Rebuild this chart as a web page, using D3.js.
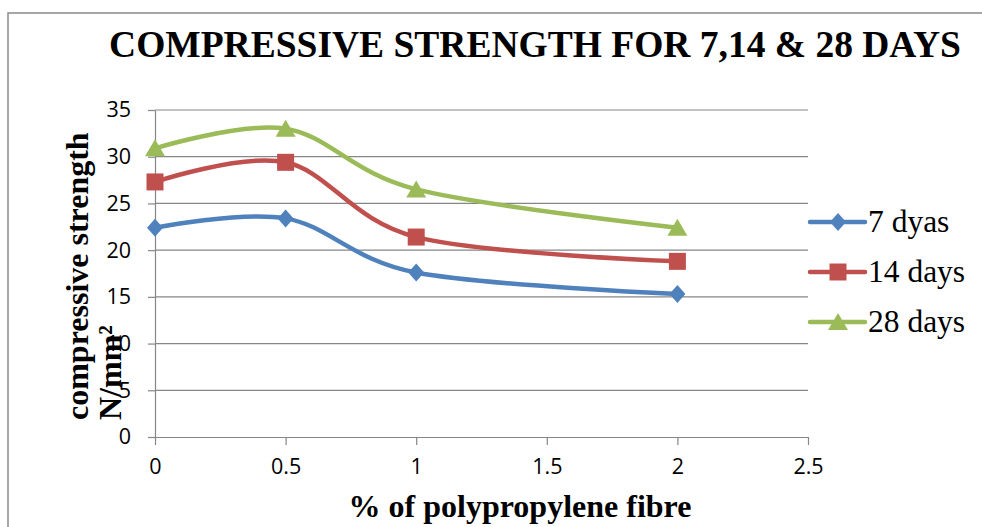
<!DOCTYPE html>
<html>
<head>
<meta charset="utf-8">
<script src="https://cdn.jsdelivr.net/npm/d3@7"></script>
<style>
  body { margin: 0; background: #fff; }
  svg { display: block; }
</style>
</head>
<body>
<svg id="chart" width="982" height="527"></svg>
<script>
// chart values
var fibre = [0, 0.5, 1, 2];
var days7 = [22.4, 23.4, 17.6, 15.3];
var days14 = [27.3, 29.4, 21.4, 18.8];
var days28 = [30.9, 33.0, 26.5, 22.4];
var seriesNames = ["7 dyas", "14 days", "28 days"];
var xTicks = [0, 0.5, 1, 1.5, 2, 2.5];
var yTicks = [0, 5, 10, 15, 20, 25, 30, 35];

var colors = ["#4F81BD", "#C0504D", "#9BBB59"];
var shapes = ["diamond", "square", "triangle"];
var series = [days7, days14, days28].map(function(vals, i) {
  return {
    name: seriesNames[i],
    color: colors[i],
    shape: shapes[i],
    points: vals.map(function(v, j) { return {x: fibre[j], y: v}; })
  };
});

var svg = d3.select("#chart");
var x = d3.scaleLinear().domain([0, 2.5]).range([155, 808]);
var y = d3.scaleLinear().domain([0, 35]).range([437, 110]);
var grey = "#868686";
var serif = "'Liberation Serif', 'Times New Roman', serif";

// outer frame (runs off the right and bottom edge)
svg.append("rect")
  .attr("x", 8).attr("y", 13)
  .attr("width", 1000).attr("height", 600)
  .style("fill", "none")
  .style("stroke", "#8a8a8a")
  .style("stroke-width", 1.5);

// title
svg.append("text")
  .attr("x", 535).attr("y", 57)
  .attr("text-anchor", "middle")
  .style("font-family", serif)
  .style("font-weight", "bold")
  .style("font-size", "37.5px")
  .text("COMPRESSIVE STRENGTH FOR 7,14 & 28 DAYS");

// gridlines
svg.append("g").selectAll("line")
  .data(yTicks.filter(function(d) { return d > 0; }))
  .enter().append("line")
  .attr("x1", x(0)).attr("x2", x(2.5))
  .attr("y1", function(d) { return y(d); })
  .attr("y2", function(d) { return y(d); })
  .style("stroke", grey)
  .style("stroke-width", 1.2);

// axes
var yAxis = svg.append("g")
  .attr("transform", "translate(" + x(0) + ",0)")
  .call(d3.axisLeft(y).tickValues(yTicks).tickSize(7).tickPadding(17).tickSizeOuter(0));
var xAxis = svg.append("g")
  .attr("transform", "translate(0," + y(0) + ")")
  .call(d3.axisBottom(x).tickValues(xTicks).tickSize(8).tickPadding(14).tickSizeOuter(0)
    .tickFormat(function(d) { return d; }));

[xAxis, yAxis].forEach(function(ax) {
  ax.select(".domain").style("stroke", grey).style("stroke-width", 1.2);
  ax.selectAll(".tick line").style("stroke", grey).style("stroke-width", 1.2);
  ax.selectAll("text")
    .style("font-family", "'Open Sans', sans-serif")
    .style("font-size", "21.5px")
    .style("fill", "#000");
});

// lines
var line = d3.line()
  .x(function(d) { return x(d.x); })
  .y(function(d) { return y(d.y); })
  .curve(d3.curveCardinal.tension(0));

function markerPath(shape) {
  if (shape === "diamond") return "M0,-9L8,0L0,9L-8,0Z";
  if (shape === "square") return "M-8.5,-8.5H8.5V8.5H-8.5Z";
  return "M0,-9L10,8L-10,8Z";
}

var plot = svg.append("g");
series.forEach(function(s) {
  plot.append("path")
    .datum(s.points)
    .attr("d", line)
    .style("fill", "none")
    .style("stroke", s.color)
    .style("stroke-width", 4.5)
    .style("stroke-linecap", "round");
});
series.forEach(function(s) {
  plot.selectAll(null)
    .data(s.points)
    .enter().append("path")
    .attr("transform", function(d) { return "translate(" + x(d.x) + "," + y(d.y) + ")"; })
    .attr("d", markerPath(s.shape))
    .style("fill", s.color);
});

// axis titles
svg.append("text")
  .attr("x", 520).attr("y", 517)
  .attr("text-anchor", "middle")
  .style("font-family", serif)
  .style("font-weight", "bold")
  .style("font-size", "32px")
  .text("% of polypropylene fibre");

var yTitle = svg.append("text")
  .attr("transform", "translate(88,420) rotate(-90)")
  .style("font-family", serif)
  .style("font-weight", "bold")
  .style("font-size", "32px");
yTitle.append("tspan").attr("x", 0).attr("y", 0).text("compressive strength");
yTitle.append("tspan").attr("x", 0).attr("y", 33).text("N/mm²");

// legend
var legend = svg.append("g").selectAll("g")
  .data(series)
  .enter().append("g")
  .attr("transform", function(d, i) { return "translate(810," + (222 + i * 50) + ")"; });
legend.append("line")
  .attr("x1", 0).attr("x2", 55)
  .style("stroke", function(d) { return d.color; })
  .style("stroke-width", 4.5)
  .style("stroke-linecap", "round");
legend.append("path")
  .attr("transform", "translate(28,0)")
  .attr("d", function(d) { return markerPath(d.shape); })
  .style("fill", function(d) { return d.color; });
legend.append("text")
  .attr("x", 58).attr("y", 10)
  .style("font-family", serif)
  .style("font-size", "31.5px")
  .text(function(d) { return d.name; });
</script>
</body>
</html>
